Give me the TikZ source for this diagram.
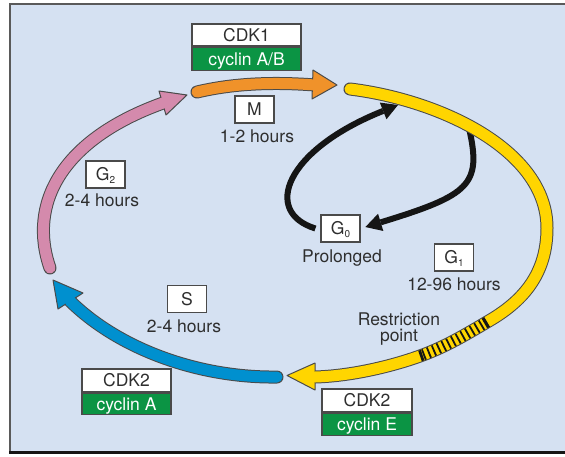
\documentclass[tikz,border=0pt]{standalone}
\usepackage{fontspec}
\setmainfont{TeX Gyre Heros}
\usetikzlibrary{arrows.meta}
\definecolor{bg}{HTML}{D5E1F2}
\definecolor{framec}{HTML}{5A5A5A}
\definecolor{txt}{HTML}{2E2E2E}
\definecolor{cgreen}{HTML}{0B9444}
\definecolor{corange}{HTML}{F0922A}
\definecolor{cpink}{HTML}{D48AAC}
\definecolor{cblue}{HTML}{0090CF}
\definecolor{cyellow}{HTML}{FFD500}
\definecolor{outl}{HTML}{4A4A4A}
\definecolor{blk}{HTML}{151515}
\newcommand{\fs}{\fontsize{17.5}{19}\selectfont}
\newcommand{\sbs}[1]{\raisebox{-3pt}{\fontsize{10}{10}\selectfont #1}}
\newcommand{\fatarrow}[3]{%
  \draw[line width=13pt, outl, line cap=round] #2;
  \filldraw[fill=#1, draw=outl, line width=1pt, line join=round] #3 -- cycle;
  \draw[line width=11pt, #1, line cap=round] #2;}
\tikzset{
  every node/.style={font=\fs},
  lab/.style={draw=outl, line width=1.2pt, fill=white, minimum width=39pt, minimum height=27pt,
    inner sep=0pt, text=txt, text height=12.6pt, text depth=0pt},
  cdktop/.style={draw=outl, line width=1.2pt, fill=white, inner sep=0pt, text=txt,
    text height=12.6pt, text depth=0pt},
  cdkbot/.style={draw=outl, line width=1.2pt, fill=cgreen, inner sep=0pt, text=white,
    text height=12.6pt, text depth=0pt},
  plain/.style={text=txt, inner sep=0pt, anchor=base},
  loop/.style={line width=6pt, blk, -{Triangle[length=16pt,width=18pt,line width=0pt]}}
}
\begin{document}
\begin{tikzpicture}[x=1pt,y=-1pt]
\useasboundingbox (0,0) rectangle (565,456);
% background frame
\fill[bg] (10,3) rectangle (565,452);
\draw[framec, line width=2pt] (565,3.6) -- (10.3,3.6) -- (10.3,452);
\draw[blk, line width=3pt] (9.3,452.3) -- (565,452.3);

% labels boxes
\node[lab] (M) at (254.5,109.5) {M};
\node[lab] (G2) at (105.5,174.5) {G\sbs{2}};
\node[lab] (S) at (187,299) {S};
\node[lab] (G0) at (340.5,228.5) {G\sbs{0}};
\node[lab] (G1) at (454,257.5) {G\sbs{1}};

% black G0 loop (under yellow)
\coordinate (y1) at (398,105);
\coordinate (y2) at (469,128);
\draw[loop] ([xshift=-5pt]G0.west) .. controls (262,212) and (285,150) .. (y1);
\draw[loop, shorten >=5pt] (y2) .. controls (482,185) and (470,195) .. (G0.east);

% phase arrows
\fatarrow{corange}{(197,92) .. controls (235,83) and (275,82) .. (315,85)}{(313,70) -- (337,85) -- (312,99)}
\fatarrow{cpink}{(50,268) .. controls (28,205) and (60,140) .. (163,103)}{(159,91) -- (187,95) -- (166,115)}
\fatarrow{cblue}{(277,377) .. controls (200,378) and (120,350) .. (70,301)}{(83,293) -- (53,280) -- (58,309)}
\fatarrow{cyellow}{(350,89) .. controls (440,100) and (547,150) .. (547,228)
  .. controls (547,275) and (522,302) .. (487,322)
  .. controls (465,335) and (445,347) .. (420,356)
  .. controls (390,366.8) and (350,376) .. (315,377)}{(315,363) -- (287,375.5) -- (315,390)}
% restriction point hatch
\draw[line width=11pt, blk, dash pattern=on 1.8pt off 3.6pt] (487,322) .. controls (465,335) and (445,347) .. (420,356);
\draw[line width=11pt, blk] (487,322) -- (484.4,323.5);
\draw[line width=11pt, blk] (420,356) -- (422.6,355.1);

% CDK boxes
\node[cdktop, minimum width=109pt, minimum height=22pt] (cdk1) at (246.5,35) {CDK1};
\node[cdkbot, minimum width=109pt, minimum height=23pt, anchor=north] (cycAB) at (cdk1.south) {cyclin A/B};
\node[cdktop, minimum width=89pt, minimum height=23pt] (cdk2a) at (126.5,380.5) {CDK2};
\node[cdkbot, minimum width=89pt, minimum height=21pt, anchor=north] (cycA) at (cdk2a.south) {cyclin A};
\node[cdktop, minimum width=90pt, minimum height=23pt] (cdk2e) at (367,400.5) {CDK2};
\node[cdkbot, minimum width=90pt, minimum height=22pt, anchor=north] (cycE) at (cdk2e.south) {cyclin E};

% texts
\node[plain] (tM) at (257,142.5) {1-2 hours};
\node[plain] (tG2) at (102,206) {2-4 hours};
\node[plain] (tS) at (184,332.5) {2-4 hours};
\node[plain] (tG0) at (342,262.5) {Prolonged};
\node[plain] (tG1) at (454,290.5) {12-96 hours};
\node[plain] (tR1) at (399,325) {Restriction};
\node[plain] (tR2) at (399,341.5) {point};
\end{tikzpicture}
\end{document}
